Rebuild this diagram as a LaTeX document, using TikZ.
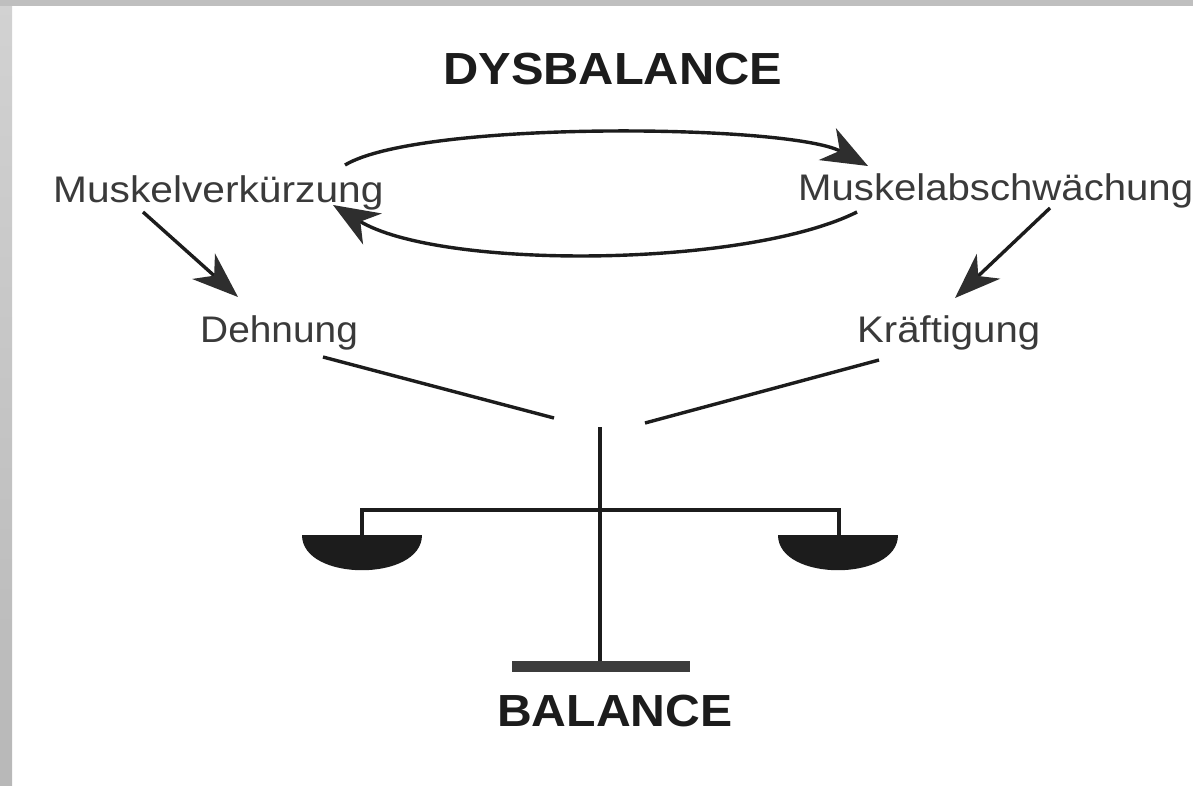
\documentclass[tikz,border=0pt]{standalone}
\usepackage{fontspec}
\usepackage{graphicx}
\setmainfont{Liberation Sans}
\usetikzlibrary{arrows.meta}
\definecolor{ink}{HTML}{1C1C1C}
\definecolor{txtgray}{HTML}{3A3A3A}
\definecolor{tipgray}{HTML}{2E2E2E}
\definecolor{basegray}{HTML}{3C3C3C}
\definecolor{frameA}{HTML}{D2D2D2}
\definecolor{frameB}{HTML}{B8B8B8}
\tikzset{
  lbl/.style={inner sep=0pt, anchor=base west, text=txtgray, font=\fontsize{37}{40}\selectfont},
  title/.style={inner sep=0pt, anchor=base west, text=ink, font=\bfseries\fontsize{45}{48}\selectfont},
  link/.style={draw=ink, line width=3.4pt},
  cyc/.style={draw=ink, line width=3.4pt, -{Stealth[length=46pt,width=36pt,inset=14pt,color=tipgray]}},
  diag/.style={draw=ink, line width=3.4pt, -{Stealth[length=46pt,width=34pt,inset=14pt,color=tipgray]}},
  bar/.style={draw=ink, line width=4.5pt},
  pan/.style={fill=ink},
}
\begin{document}
\begin{tikzpicture}[x=1pt,y=-1pt]
\useasboundingbox (0,0) rectangle (1193,785);
\fill[white] (0,0) rectangle (1193,785);
% scanned frame
\shade[top color=frameA, bottom color=frameB] (0,0) rectangle (12,785);
\fill[frameB!90!white] (0,0) rectangle (1193,5.5);

% texts
\node[title] (dys) at (443,84) {\scalebox{1.085}[1]{DYSBALANCE}};
\node[lbl] (mv) at (53,202) {\scalebox{1.1}[1]{Muskelverkürzung}};
\node[lbl] (ma) at (798,200) {\scalebox{1.085}[1]{Muskelabschwächung}};
\node[lbl] (de) at (200,342) {\scalebox{1.05}[1]{Dehnung}};
\node[lbl] (kr) at (857,342) {\scalebox{1.085}[1]{Kräftigung}};
\node[title] (bal) at (497,726) {\scalebox{1.07}[1]{BALANCE}};

% connector end points
\coordinate (mvTop) at (345,165);
\coordinate (maTip) at (868,166);
\coordinate (maBot) at (857,212);
\coordinate (mvTip) at (333,205);
\coordinate (mvOut) at (143,212);
\coordinate (deTip) at (238,297);
\coordinate (maOut) at (1050,208);
\coordinate (krTip) at (955,298);
\coordinate (deOut) at (323,357);
\coordinate (deIn) at (554,418);
\coordinate (krOut) at (879,360);
\coordinate (krIn) at (645,423);

% cycle
\draw[cyc] (mvTop) .. controls (420,120) and (790,124) .. (maTip);
\draw[cyc] (maBot) .. controls (745,268) and (440,270) .. (mvTip);
% diagonal arrows
\draw[diag] (mvOut) -- (deTip);
\draw[diag] (maOut) -- (krTip);
% lines to pivot
\draw[link] (deOut) -- (deIn);
\draw[link] (krOut) -- (krIn);

% balance scale
\coordinate (postTop) at (600,427);
\coordinate (postBot) at (600,664);
\coordinate (beamL) at (362,510);
\coordinate (beamR) at (839,510);
\coordinate (panL) at (362,536);
\coordinate (panR) at (839,536);
\draw[bar] (postTop) -- (postBot);
\draw[bar, line join=miter] (panL) -- (beamL) -- (beamR) -- (panR);
\fill[pan] (302,535) .. controls (302,582) and (422,582) .. (422,535) -- cycle;
\fill[pan] (778,535) .. controls (778,582) and (898,582) .. (898,535) -- cycle;
\fill[basegray] (512,661) rectangle (690,672);
\end{tikzpicture}
\end{document}
